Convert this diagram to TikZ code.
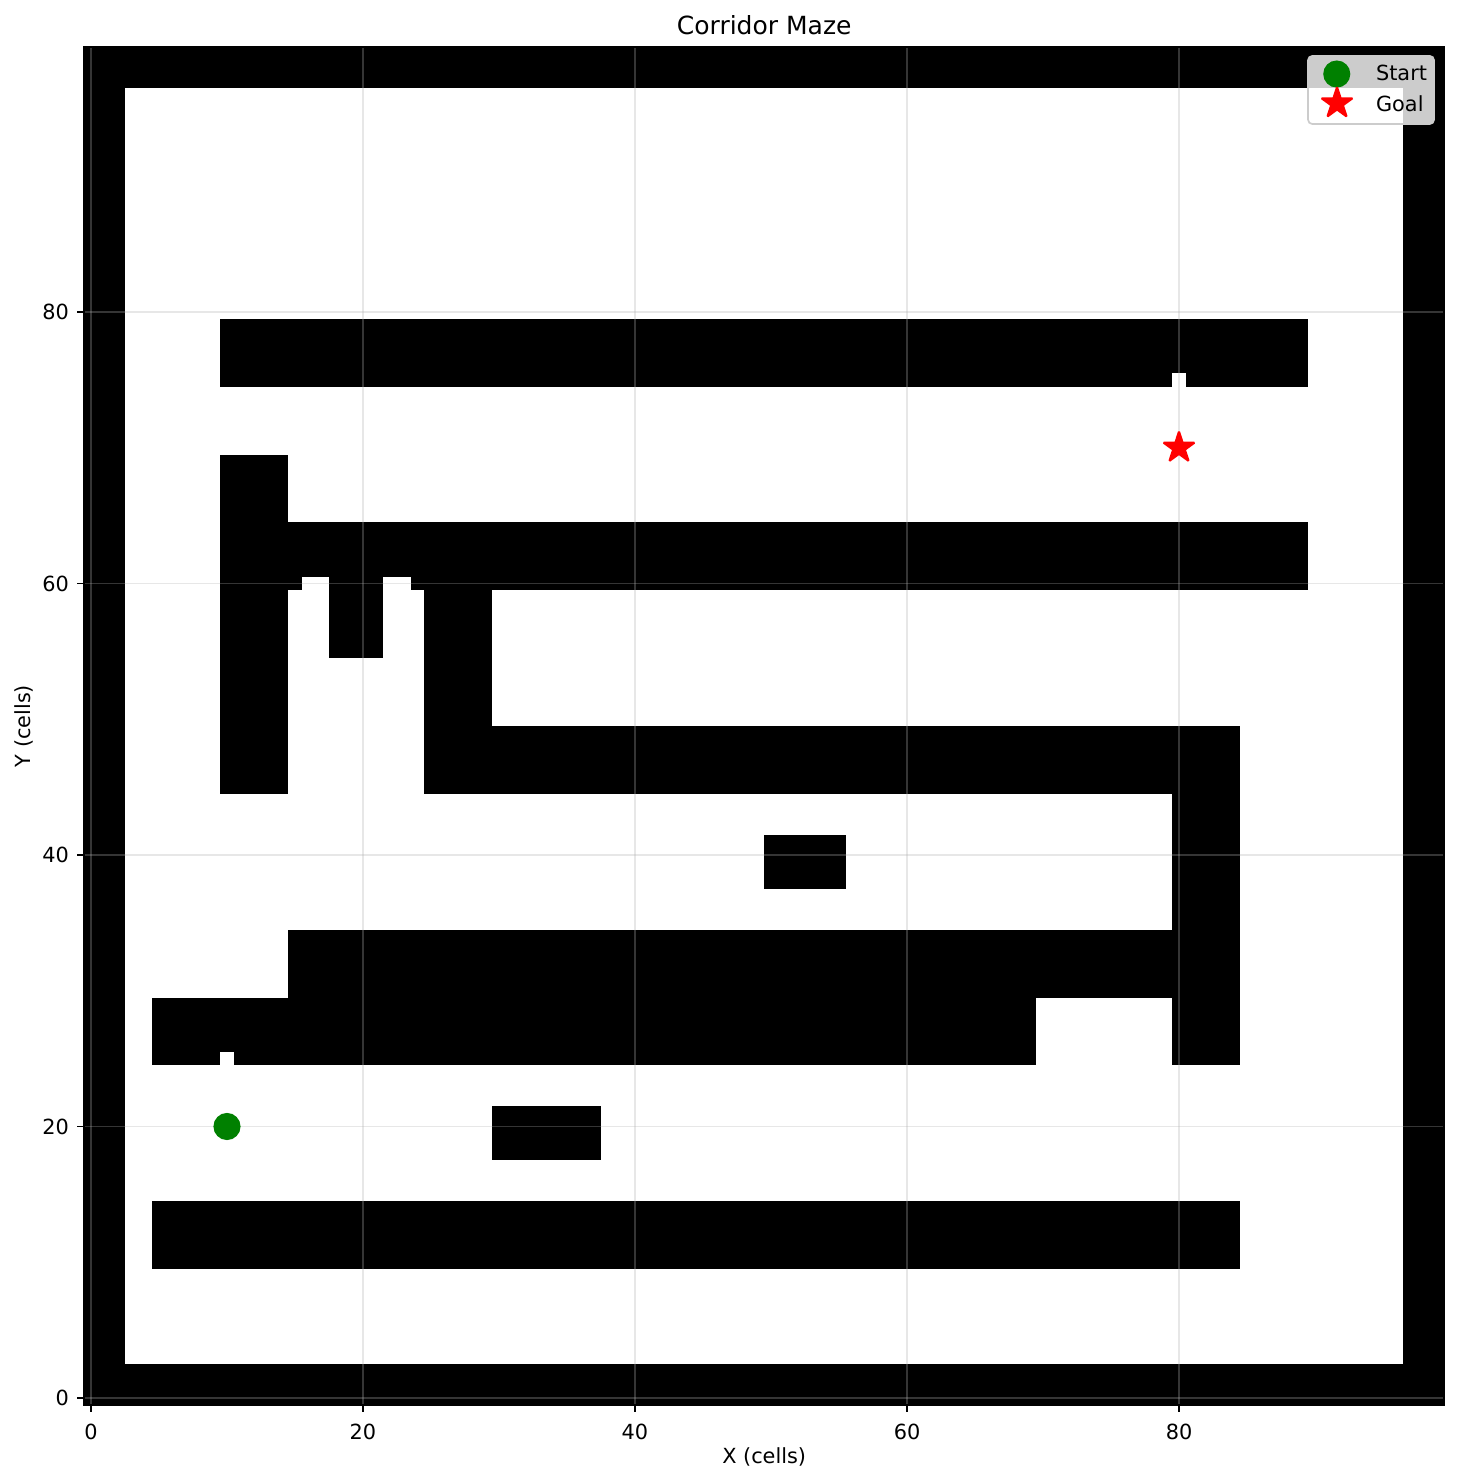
\documentclass[tikz,border=0pt]{standalone}
\usepackage{fontspec}
\setmainfont{DejaVu Sans}
\usepackage{tikz}
\usetikzlibrary{shapes.geometric,positioning}
\definecolor{gridgray}{HTML}{B0B0B0}
\definecolor{startgreen}{HTML}{008000}
\definecolor{legendedge}{HTML}{CCCCCC}

\begin{document}
\begin{tikzpicture}[x=6.528pt, y=6.516pt,
  wall/.style={fill=black},
  gap/.style={fill=white},
  gridline/.style={draw=gridgray, draw opacity=0.3, line width=0.8pt},
  axtick/.style={draw=black, line width=0.8pt},
  ticklabel/.style={font=\fontsize{10}{12}\selectfont, inner sep=0pt},
  axislabel/.style={font=\fontsize{10}{12}\selectfont, inner sep=0pt},
  startmark/.style={circle, fill=startgreen, draw=startgreen, line width=1pt, minimum size=12pt, inner sep=0pt},
  goalmark/.style={star, star points=5, star point ratio=2.618, fill=red, draw=red, line width=1pt, line join=bevel, minimum size=15.5pt, inner sep=0pt},
  legendbox/.style={draw=legendedge, line width=0.8pt, fill=white, fill opacity=0.8, rounded corners=2pt}
]
  \useasboundingbox (-6.691,-6.335) rectangle (100.588,102.983);
  \fill[white] (-0.5,-0.5) rectangle (99.5,99.5);

  \foreach \xa/\ya/\xb/\yb in {0/0/2/99, 97/0/99/99, 0/0/99/2, 0/97/99/99,
      10/75/89/79, 10/45/14/69, 15/60/89/64, 18/55/21/59, 25/45/29/59,
      25/45/84/49, 80/25/84/49, 50/38/55/41, 15/30/79/34, 5/25/69/29,
      30/18/37/21, 5/10/84/14}
    \fill[wall] (\xa-0.5,\ya-0.5) rectangle (\xb+0.5,\yb+0.5);
  \foreach \xa/\ya in {80/75, 10/25, 16/60, 17/60, 22/60, 23/60}
    \fill[gap] (\xa-0.5,\ya-0.5) rectangle (\xa+0.5,\ya+0.5);

  \foreach \v in {0,20,...,80} {
    \draw[gridline] (\v,-0.5) -- (\v,99.5);
    \draw[gridline] (-0.5,\v) -- (99.5,\v);
  }

  \node[startmark] (start) at (10,20) {};
  \node[goalmark] (goal) at (80,70) {};

  \draw[line width=0.8pt] (-0.5,-0.5) rectangle (99.5,99.5);
  \foreach \v in {0,20,...,80} {
    \draw[axtick] (\v,-0.5) -- ++(0,-3.5pt) node[below=5.1pt, ticklabel] (xt\v) {\v};
    \draw[axtick] (-0.5,\v) -- ++(-3.5pt,0) node[left=3.5pt, ticklabel] (yt\v) {\v};
  }

  \node[axislabel] (xlab) at (49.5,-4.35) {X (cells)};
  \node[axislabel, rotate=90] (ylab) at (-4.93,49.5) {Y (cells)};
  \node[font=\fontsize{12}{14}\selectfont, anchor=base, inner sep=0pt] (title) at (49.5,100.42) {Corridor Maze};

  \node[legendbox, minimum width=60.45pt, minimum height=32.65pt] (legend) at (94.12,96.355) {};
  \node[startmark] (lstart) at (91.6,97.53) {};
  \node[goalmark] (lgoal) at (91.62,95.37) {};
  \node[ticklabel, anchor=base west] (lstarttext) at (94.46,97.04) {Start};
  \node[ticklabel, anchor=base west] (lgoaltext) at (94.46,94.75) {Goal};
\end{tikzpicture}
\end{document}
